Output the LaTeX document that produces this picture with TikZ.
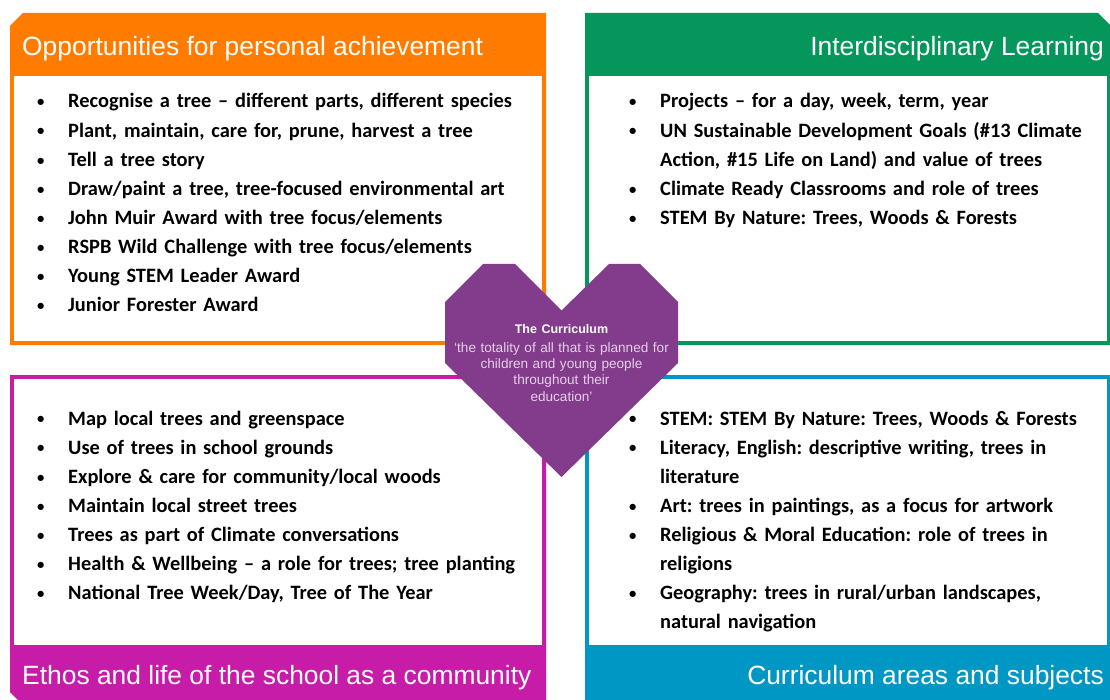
\documentclass[tikz,border=0pt]{standalone}
\usepackage{fontspec}
\setmainfont{Carlito}
\newfontfamily\headfont{Liberation Sans}
\definecolor{achorange}{RGB}{255, 124, 0}
\definecolor{idlgreen}{RGB}{5, 150, 92}
\definecolor{ethosmag}{RGB}{198, 28, 168}
\definecolor{subjblue}{RGB}{0, 151, 196}
\definecolor{heartpurple}{RGB}{131, 60, 139}
\definecolor{heartlilac}{RGB}{228, 208, 232}
\usepackage{tikz}
\usetikzlibrary{positioning}
\frenchspacing

\newcommand{\dotitem}{\makebox[32pt][l]{\hspace*{1pt}\raisebox{0.12ex}{\scalebox{0.72}{\textbullet}}}}
\newcommand{\contline}{\hspace*{32pt}}

\tikzset{
  headtext/.style={inner sep=0pt, text=white, font=\headfont\fontsize{26.4}{30}\selectfont},
  listtext/.style={inner sep=0pt, anchor=base west, text width=520pt, align=left,
    font=\fontsize{20.4}{29.1}\selectfont\bfseries},
}

\begin{document}
\begin{tikzpicture}[x=1pt, y=-1pt]
  \clip (0,0) rectangle (1110,700);
  \fill[white] (0,0) rectangle (1110,700);

  % Opportunities for personal achievement
  \fill[achorange] (10,26) -- (23,13) -- (546,13) -- (546,345) -- (10,345) -- cycle;
  \fill[white] (14,76) rectangle (542,341);
  \node[headtext, anchor=base west] (achhead) at (22,56) {Opportunities for personal achievement};
  \node[listtext] (achlist) at (36,108) {
    \dotitem Recognise a tree -- different parts, different species\\
    \dotitem Plant, maintain, care for, prune, harvest a tree\\
    \dotitem Tell a tree story\\
    \dotitem Draw/paint a tree, tree-focused environmental art\\
    \dotitem John Muir Award with tree focus/elements\\
    \dotitem RSPB Wild Challenge with tree focus/elements\\
    \dotitem Young STEM Leader Award\\
    \dotitem Junior Forester Award};

  % Interdisciplinary Learning
  \fill[idlgreen] (585,13) -- (1098,13) -- (1111,26) -- (1111,345) -- (585,345) -- cycle;
  \fill[white] (589,76) rectangle (1107,341);
  \node[headtext, anchor=base east] (idlhead) at (1104,56) {Interdisciplinary Learning};
  \node[listtext] (idllist) at (628,108) {
    \dotitem Projects -- for a day, week, term, year\\
    \dotitem UN Sustainable Development Goals (\#13 Climate\\
    \contline Action, \#15 Life on Land) and value of trees\\
    \dotitem Climate Ready Classrooms and role of trees\\
    \dotitem STEM By Nature: Trees, Woods \& Forests};

  % Ethos and life of the school as a community
  \fill[ethosmag] (10,375) -- (546,375) -- (546,705) -- (23,705) -- (10,692) -- cycle;
  \fill[white] (14,379) rectangle (542,645);
  \node[headtext, anchor=base west] (ethoshead) at (22,684) {Ethos and life of the school as a community};
  \node[listtext] (ethoslist) at (36,425) {
    \dotitem Map local trees and greenspace\\
    \dotitem Use of trees in school grounds\\
    \dotitem Explore \& care for community/local woods\\
    \dotitem Maintain local street trees\\
    \dotitem Trees as part of Climate conversations\\
    \dotitem Health \& Wellbeing -- a role for trees; tree planting\\
    \dotitem National Tree Week/Day, Tree of The Year};

  % Curriculum areas and subjects
  \fill[subjblue] (585,375) rectangle (1111,705);
  \fill[white] (589,379) rectangle (1107,645);
  \node[headtext, anchor=base east] (subjhead) at (1104,684) {Curriculum areas and subjects};
  \node[listtext] (subjlist) at (628,425) {
    \dotitem STEM: STEM By Nature: Trees, Woods \& Forests\\
    \dotitem Literacy, English: descriptive writing, trees in\\
    \contline literature\\
    \dotitem Art: trees in paintings, as a focus for artwork\\
    \dotitem Religious \& Moral Education: role of trees in\\
    \contline religions\\
    \dotitem Geography: trees in rural/urban landscapes,\\
    \contline natural navigation};

  % The Curriculum heart
  \fill[heartpurple] (483,264) -- (515,264) -- (561.5,310.5) -- (609,264) -- (640,264)
    -- (678,302) -- (678,363) -- (561.5,477) -- (445,363) -- (445,302) -- cycle;
  \node[inner sep=0pt, anchor=base, text width=240pt, align=center, text=heartlilac,
    font=\headfont\fontsize{13.6}{16.5}\selectfont] (curric) at (561.5,334) {
    \textcolor{white}{\fontsize{12.5}{15}\selectfont\bfseries The Curriculum}\\[1.5pt]
    ‘the totality of all that is planned for\\
    children and young people\\
    throughout their\\
    education’};
\end{tikzpicture}
\end{document}
